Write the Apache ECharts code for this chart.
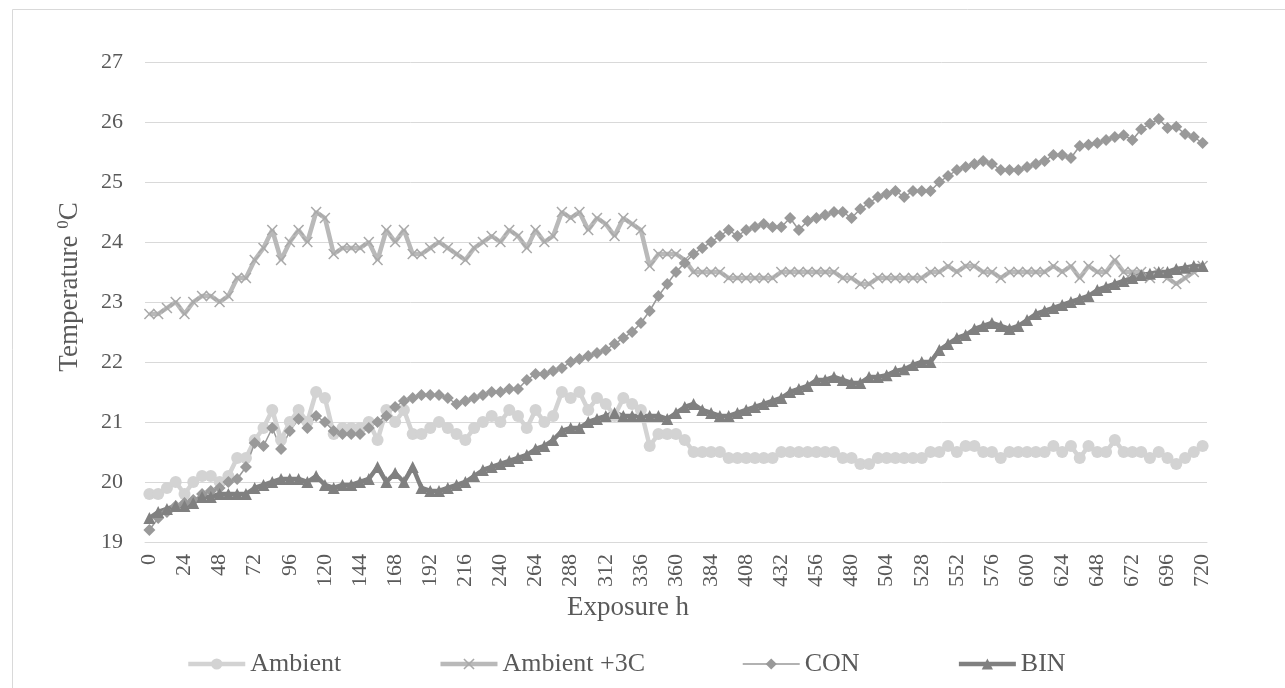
<!DOCTYPE html>
<html>
<head>
<meta charset="utf-8">
<script src="https://cdn.jsdelivr.net/npm/echarts@6/dist/echarts.min.js"></script>
<style>
  html, body { margin: 0; padding: 0; background: #fff; }
  #main { width: 1285px; height: 688px; }
</style>
</head>
<body>
<div id="main"></div>
<script>
// exposure hours (every 6 h)
var hours = [0,6,12,18,24,30,36,42,48,54,60,66,72,78,84,90,96,102,108,114,
  120,126,132,138,144,150,156,162,168,174,180,186,192,198,204,210,216,222,228,234,
  240,246,252,258,264,270,276,282,288,294,300,306,312,318,324,330,336,342,348,354,
  360,366,372,378,384,390,396,402,408,414,420,426,432,438,444,450,456,462,468,474,
  480,486,492,498,504,510,516,522,528,534,540,546,552,558,564,570,576,582,588,594,
  600,606,612,618,624,630,636,642,648,654,660,666,672,678,684,690,696,702,708,714,720];

var ambient = [19.8,19.8,19.9,20.0,19.8,20.0,20.1,20.1,20.0,20.1,
  20.4,20.4,20.7,20.9,21.2,20.7,21.0,21.2,21.0,21.5,
  21.4,20.8,20.9,20.9,20.9,21.0,20.7,21.2,21.0,21.2,
  20.8,20.8,20.9,21.0,20.9,20.8,20.7,20.9,21.0,21.1,
  21.0,21.2,21.1,20.9,21.2,21.0,21.1,21.5,21.4,21.5,
  21.2,21.4,21.3,21.1,21.4,21.3,21.2,20.6,20.8,20.8,
  20.8,20.7,20.5,20.5,20.5,20.5,20.4,20.4,20.4,20.4,
  20.4,20.4,20.5,20.5,20.5,20.5,20.5,20.5,20.5,20.4,
  20.4,20.3,20.3,20.4,20.4,20.4,20.4,20.4,20.4,20.5,
  20.5,20.6,20.5,20.6,20.6,20.5,20.5,20.4,20.5,20.5,
  20.5,20.5,20.5,20.6,20.5,20.6,20.4,20.6,20.5,20.5,
  20.7,20.5,20.5,20.5,20.4,20.5,20.4,20.3,20.4,20.5,
  20.6];

var ambient3 = [22.8,22.8,22.9,23.0,22.8,23.0,23.1,23.1,23.0,23.1,
  23.4,23.4,23.7,23.9,24.2,23.7,24.0,24.2,24.0,24.5,
  24.4,23.8,23.9,23.9,23.9,24.0,23.7,24.2,24.0,24.2,
  23.8,23.8,23.9,24.0,23.9,23.8,23.7,23.9,24.0,24.1,
  24.0,24.2,24.1,23.9,24.2,24.0,24.1,24.5,24.4,24.5,
  24.2,24.4,24.3,24.1,24.4,24.3,24.2,23.6,23.8,23.8,
  23.8,23.7,23.5,23.5,23.5,23.5,23.4,23.4,23.4,23.4,
  23.4,23.4,23.5,23.5,23.5,23.5,23.5,23.5,23.5,23.4,
  23.4,23.3,23.3,23.4,23.4,23.4,23.4,23.4,23.4,23.5,
  23.5,23.6,23.5,23.6,23.6,23.5,23.5,23.4,23.5,23.5,
  23.5,23.5,23.5,23.6,23.5,23.6,23.4,23.6,23.5,23.5,
  23.7,23.5,23.5,23.5,23.4,23.5,23.4,23.3,23.4,23.5,
  23.6];

var con = [19.2,19.4,19.5,19.6,19.65,19.7,19.8,19.85,19.9,20.0,
  20.05,20.25,20.65,20.6,20.9,20.55,20.85,21.05,20.9,21.1,
  21.0,20.85,20.8,20.8,20.8,20.9,21.0,21.1,21.25,21.35,
  21.4,21.45,21.45,21.45,21.4,21.3,21.35,21.4,21.45,21.5,
  21.5,21.55,21.55,21.7,21.8,21.8,21.85,21.9,22.0,22.05,
  22.1,22.15,22.2,22.3,22.4,22.5,22.65,22.85,23.1,23.3,
  23.5,23.65,23.8,23.9,24.0,24.1,24.2,24.1,24.2,24.25,
  24.3,24.25,24.25,24.4,24.2,24.35,24.4,24.45,24.5,24.5,
  24.4,24.55,24.65,24.75,24.8,24.85,24.75,24.85,24.85,24.85,
  25.0,25.1,25.2,25.25,25.3,25.35,25.3,25.2,25.2,25.2,
  25.25,25.3,25.35,25.45,25.45,25.4,25.6,25.62,25.65,25.7,
  25.75,25.78,25.7,25.88,25.97,26.05,25.9,25.92,25.8,25.75,
  25.65];

var bin = [19.4,19.5,19.55,19.6,19.6,19.65,19.75,19.75,19.8,19.8,
  19.8,19.8,19.9,19.95,20.0,20.05,20.05,20.05,20.0,20.1,
  19.95,19.9,19.95,19.95,20.0,20.05,20.25,20.0,20.15,20.0,
  20.25,19.9,19.85,19.85,19.9,19.95,20.0,20.1,20.2,20.25,
  20.3,20.35,20.4,20.45,20.55,20.6,20.7,20.85,20.9,20.9,
  21.0,21.05,21.1,21.15,21.1,21.1,21.1,21.1,21.1,21.05,
  21.15,21.25,21.3,21.2,21.15,21.1,21.1,21.15,21.2,21.25,
  21.3,21.35,21.4,21.5,21.55,21.6,21.7,21.7,21.75,21.7,
  21.65,21.65,21.75,21.75,21.78,21.85,21.88,21.95,22.0,22.0,
  22.2,22.3,22.4,22.45,22.55,22.6,22.65,22.6,22.55,22.6,
  22.7,22.8,22.85,22.9,22.95,23.0,23.05,23.1,23.2,23.25,
  23.3,23.35,23.4,23.45,23.47,23.5,23.5,23.55,23.57,23.6,
  23.6];

var font = 'Liberation Serif';
var textColor = '#595959';
var crossPath = 'path://M0,1 L1,0 L5,4 L9,0 L10,1 L6,5 L10,9 L9,10 L5,6 L1,10 L0,9 L4,5 Z';

var chart = echarts.init(document.getElementById('main'), null, {renderer: 'canvas'});

var option = {
  backgroundColor: '#fff',
  animation: false,
  graphic: [{
    type: 'rect',
    shape: {x: 12.5, y: 9.5, width: 1300, height: 700},
    style: {fill: 'none', stroke: '#d9d9d9', lineWidth: 1},
    silent: true
  }],
  grid: {left: 145, right: 78, top: 62, bottom: 146},
  legend: {
    left: 181,
    top: 646,
    itemWidth: 57,
    itemHeight: 14,
    itemGap: 97,
    lineStyle: {width: 'inherit'},
    textStyle: {fontFamily: font, fontSize: 26, color: textColor},
    data: ['Ambient', 'Ambient +3C', 'CON', 'BIN']
  },
  xAxis: {
    type: 'category',
    data: hours,
    boundaryGap: true,
    name: 'Exposure h',
    nameLocation: 'middle',
    nameGap: 52,
    nameTextStyle: {fontFamily: font, fontSize: 27, color: textColor, padding: [0, 96, 0, 0]},
    axisLine: {lineStyle: {color: '#d9d9d9'}},
    axisTick: {show: false},
    axisLabel: {interval: 3, rotate: 90, margin: 12, fontFamily: font, fontSize: 22, color: textColor}
  },
  yAxis: {
    type: 'value',
    min: 19,
    max: 27,
    interval: 1,
    name: '{a|Temperature }{s|0}{a|C}',
    nameLocation: 'middle',
    nameGap: 62,
    nameTextStyle: {
      padding: [0, 0, 0, 30],
      rich: {
        a: {fontFamily: font, fontSize: 27, color: textColor, verticalAlign: 'bottom', lineHeight: 28},
        s: {fontFamily: font, fontSize: 17, color: textColor, verticalAlign: 'top', lineHeight: 28}
      }
    },
    axisLine: {show: false},
    axisTick: {show: false},
    splitLine: {lineStyle: {color: '#d9d9d9', width: 1}},
    axisLabel: {margin: 22, fontFamily: font, fontSize: 22, color: textColor}
  },
  series: [
    {
      name: 'Ambient', type: 'line', data: ambient,
      showAllSymbol: true,
      symbol: 'circle', symbolSize: 12,
      itemStyle: {color: '#d3d3d3'},
      lineStyle: {color: '#d3d3d3', width: 4.5}
    },
    {
      name: 'Ambient +3C', type: 'line', data: ambient3,
      showAllSymbol: true,
      symbol: crossPath, symbolSize: 11,
      itemStyle: {color: '#a9a9a9'},
      lineStyle: {color: '#b9b9b9', width: 4.5}
    },
    {
      name: 'CON', type: 'line', data: con,
      showAllSymbol: true,
      symbol: 'diamond', symbolSize: 12,
      itemStyle: {color: '#999999'},
      lineStyle: {color: '#999999', width: 1.5}
    },
    {
      name: 'BIN', type: 'line', data: bin,
      showAllSymbol: true,
      symbol: 'triangle', symbolSize: 12,
      itemStyle: {color: '#808080'},
      lineStyle: {color: '#808080', width: 4.5}
    }
  ]
};

chart.setOption(option);
</script>
</body>
</html>
